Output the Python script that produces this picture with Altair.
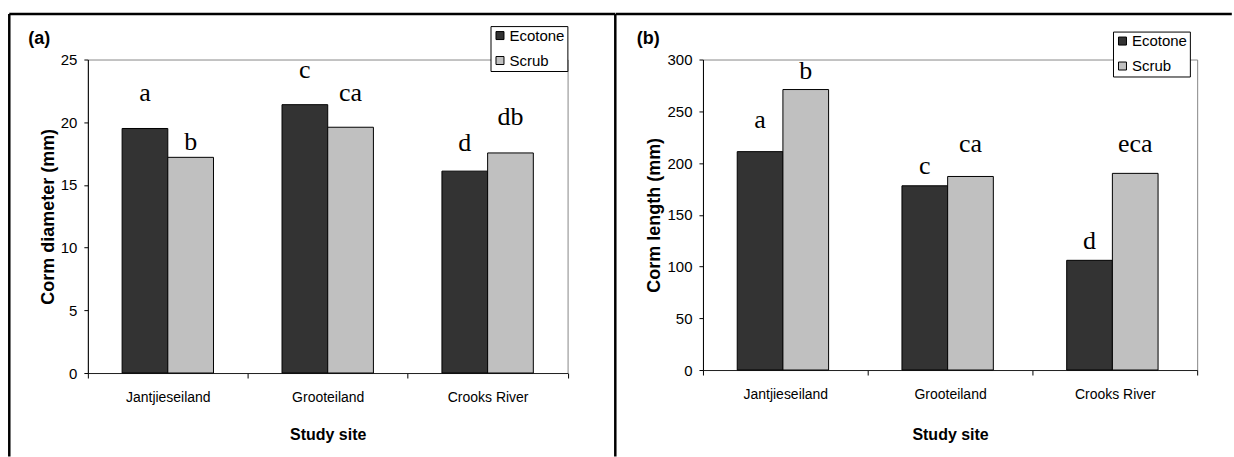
import altair as alt
import pandas as pd

sites = ["Jantjieseiland", "Grooteiland", "Crooks River"]
groups = ["Ecotone", "Scrub"]
colors = ["#333333", "#c0c0c0"]

# (a) Corm diameter (mm)
diam_ecotone = [19.5, 21.4, 16.1]
diam_scrub = [17.2, 19.6, 17.55]
diam_letters_ecotone = ["a", "c", "d"]
diam_letters_scrub = ["b", "ca", "db"]
diam_letter_y_ecotone = [21.7, 23.5, 17.7]
diam_letter_y_scrub = [17.8, 21.7, 19.8]
diam_ticks = [0, 5, 10, 15, 20, 25]

# (b) Corm length (mm)
len_ecotone = [211, 178, 106]
len_scrub = [271, 187, 190]
len_letters_ecotone = ["a", "c", "d"]
len_letters_scrub = ["b", "ca", "eca"]
len_letter_y_ecotone = [234, 189, 117]
len_letter_y_scrub = [281, 211, 211]
len_ticks = [0, 50, 100, 150, 200, 250, 300]


def frame(eco, scr, let_e, let_s, ly_e, ly_s):
    rows = []
    for i, s in enumerate(sites):
        rows.append({"site": s, "group": "Ecotone", "value": eco[i], "letter": let_e[i], "label_y": ly_e[i]})
        rows.append({"site": s, "group": "Scrub", "value": scr[i], "letter": let_s[i], "label_y": ly_s[i]})
    return pd.DataFrame(rows)


df_a = frame(diam_ecotone, diam_scrub, diam_letters_ecotone, diam_letters_scrub,
             diam_letter_y_ecotone, diam_letter_y_scrub)
df_b = frame(len_ecotone, len_scrub, len_letters_ecotone, len_letters_scrub,
             len_letter_y_ecotone, len_letter_y_scrub)

FONT = "Liberation Sans"
one = pd.DataFrame({"k": [0]})

# page layout (pixels)
TOP = 57.5
A_LEFT, A_W, A_H = 86.7, 480.5, 314
B_LEFT, B_W, B_H = 702.3, 495, 311
BORDER_TOP, BORDER_LEFT, BORDER_MID, BORDER_RIGHT, BORDER_BOTTOM = 12, 8, 615, 1232, 455


def panel(df, ytitle, ymax, ticks, w, h, left, legend_x, legend_y, tag, tag_x,
          ytitle_pad, xtitle_pad, borders):
    x_axis = alt.Axis(title="Study site", labelAngle=0, tickBand="extent", tickSize=5,
                      labelPadding=13, labelFontSize=14, titleFontSize=16,
                      titlePadding=xtitle_pad, domainColor="#222222")
    y_axis = alt.Axis(values=ticks, title=ytitle, tickSize=4, labelPadding=7,
                      labelFontSize=15, titleFontSize=18, titlePadding=ytitle_pad)
    x_scale = alt.Scale(paddingInner=0, paddingOuter=0)
    y_scale = alt.Scale(domain=[0, ymax], nice=False)
    xo_enc = alt.XOffset("group:N", sort=groups, scale=alt.Scale(paddingInner=0, paddingOuter=0.75))
    bars = alt.Chart(df).mark_bar(stroke="black", strokeWidth=1).encode(
        x=alt.X("site:N", sort=sites, scale=x_scale, axis=x_axis),
        xOffset=xo_enc,
        y=alt.Y("value:Q", scale=y_scale, axis=y_axis),
        color=alt.Color("group:N", sort=groups,
                        scale=alt.Scale(domain=groups, range=colors),
                        legend=alt.Legend(orient="none", legendX=legend_x, legendY=legend_y,
                                          title=None, strokeColor="black", fillColor="white",
                                          padding=2, symbolType="square", symbolSize=64,
                                          symbolStrokeColor="black", symbolStrokeWidth=1,
                                          labelFont=FONT, labelFontSize=15, labelColor="black",
                                          rowPadding=9, labelOffset=2)),
    )
    letters = alt.Chart(df).mark_text(font="Liberation Serif", fontSize=26, baseline="alphabetic",
                                      align="center", color="black").encode(
        x=alt.X("site:N", sort=sites, scale=x_scale, axis=x_axis),
        xOffset=xo_enc,
        y=alt.Y("label_y:Q", scale=y_scale, axis=y_axis),
        text="letter:N",
    )
    tag_txt = alt.Chart(one).mark_text(text=tag, font=FONT, fontSize=18, fontWeight="bold",
                                       align="left", baseline="middle", color="black").encode(
        x=alt.value(tag_x - left), y=alt.value(36.5 - TOP))
    layers = [bars, letters, tag_txt]
    for (x1, y1, x2, y2) in borders:
        enc = {"x": alt.value(x1 - left), "y": alt.value(y1 - TOP)}
        if x2 != x1:
            enc["x2"] = alt.value(x2 - left)
        if y2 != y1:
            enc["y2"] = alt.value(y2 - TOP)
        layers.append(alt.Chart(one).mark_rule(color="black", strokeWidth=2.5).encode(**enc))
    return alt.layer(*layers).properties(width=w, height=h)


pa = panel(df_a, "Corm diameter (mm)", 25, diam_ticks, A_W, A_H, A_LEFT,
           490 - A_LEFT, 24 - TOP, "(a)", 27, 3, 22,
           [(BORDER_LEFT, BORDER_TOP, BORDER_LEFT, BORDER_BOTTOM),
            (BORDER_MID, BORDER_TOP, BORDER_MID, BORDER_BOTTOM),
            (BORDER_LEFT, BORDER_TOP, BORDER_MID, BORDER_TOP)])
pb = panel(df_b, "Corm length (mm)", 300, len_ticks, B_W, B_H, B_LEFT,
           1113 - B_LEFT, 29.5 - TOP, "(b)", 636, 4, 25,
           [(BORDER_MID, BORDER_TOP, BORDER_RIGHT, BORDER_TOP)])

chart = alt.hconcat(pa, pb, spacing=B_LEFT - A_LEFT - A_W, bounds="flush").resolve_scale(
    color="independent"
).properties(
    padding={"left": 7, "top": 11.25, "right": 0, "bottom": 0},
    background="white",
).configure_view(
    stroke="#888888", strokeWidth=1
).configure_axis(
    labelFont=FONT, titleFont=FONT, labelColor="black", titleColor="black",
    titleFontWeight="bold", tickColor="black", domainColor="black", grid=False
).configure_legend(
    labelFontSize=15, symbolSize=64
)

chart.save("out.html", embed_options={"renderer": "svg", "actions": False})
